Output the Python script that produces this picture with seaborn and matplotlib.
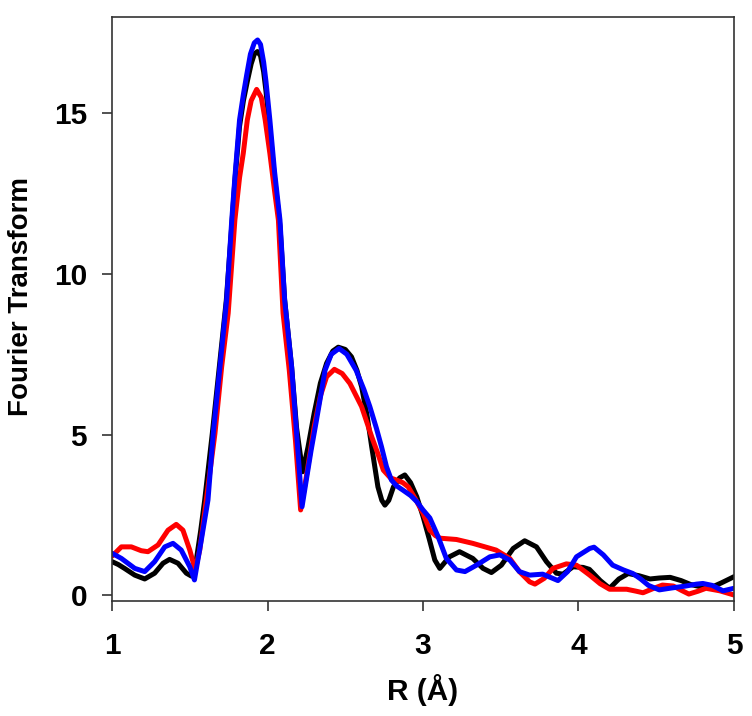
import numpy as np
import pandas as pd
import matplotlib
matplotlib.use("Agg")
import matplotlib.pyplot as plt
import seaborn as sns

# values
r_black = [1.00, 1.04, 1.08, 1.146, 1.21, 1.274, 1.328, 1.37, 1.424, 1.478, 1.51, 1.542, 1.57,
           1.596, 1.645, 1.69, 1.735, 1.77, 1.79, 1.82, 1.845, 1.87, 1.895, 1.915, 1.935,
           1.955, 1.975, 1.99, 2.015, 2.045, 2.08, 2.11, 2.155, 2.187, 2.226, 2.26, 2.30, 2.34,
           2.38, 2.42, 2.455, 2.50, 2.54, 2.575, 2.605, 2.64, 2.67, 2.71, 2.735, 2.755, 2.78,
           2.81, 2.85, 2.883, 2.92, 2.96, 3.00, 3.04, 3.076, 3.108, 3.17, 3.235, 3.32, 3.386,
           3.44, 3.504, 3.58, 3.654, 3.73, 3.794, 3.858, 3.90, 3.965, 4.03, 4.07, 4.14, 4.20,
           4.26, 4.32, 4.39, 4.46, 4.52, 4.59, 4.66, 4.72, 4.80, 4.86, 4.92, 5.00]
ft_black = [1.04, 0.95, 0.83, 0.62, 0.50, 0.68, 0.99, 1.11, 0.99, 0.68, 0.59, 1.09, 2.00,
            2.96, 5.04, 7.11, 9.19, 11.5, 12.9, 14.6, 15.4, 16.0, 16.55, 16.85, 16.93,
            16.8, 16.3, 15.7, 14.5, 13.0, 11.5, 9.20, 7.10, 5.20, 3.84, 4.60, 5.66, 6.60,
            7.22, 7.60, 7.72, 7.65, 7.42, 7.00, 6.49, 5.60, 4.62, 3.37, 2.95, 2.80, 2.95,
            3.37, 3.65, 3.74, 3.50, 3.06, 2.45, 1.75, 1.09, 0.83, 1.19, 1.35, 1.14, 0.83,
            0.70, 0.93, 1.45, 1.69, 1.50, 1.04, 0.68, 0.65, 0.88, 0.86, 0.80, 0.45, 0.21,
            0.50, 0.67, 0.60, 0.50, 0.53, 0.55, 0.45, 0.33, 0.24, 0.25, 0.38, 0.57]

r_red = [1.00, 1.06, 1.124, 1.188, 1.231, 1.296, 1.36, 1.413, 1.456, 1.50, 1.535, 1.564,
         1.606, 1.662, 1.705, 1.747, 1.79, 1.82, 1.844, 1.87, 1.895, 1.93, 1.96, 1.985, 2.015,
         2.045, 2.07, 2.10, 2.14, 2.18, 2.213, 2.25, 2.30, 2.34, 2.38, 2.43, 2.48, 2.53,
         2.605, 2.67, 2.71, 2.745, 2.79, 2.83, 2.87, 2.905, 2.95, 3.00, 3.044, 3.08, 3.11,
         3.215, 3.32, 3.47, 3.558, 3.62, 3.686, 3.72, 3.78, 3.836, 3.922, 3.987, 4.072, 4.14,
         4.20, 4.31, 4.37, 4.415, 4.48, 4.54, 4.61, 4.66, 4.71, 4.77, 4.82, 4.91, 5.00]
ft_red = [1.21, 1.50, 1.50, 1.38, 1.35, 1.56, 2.02, 2.20, 2.02, 1.40, 0.78, 1.40,
          2.96, 5.04, 7.11, 8.78, 11.68, 13.0, 13.76, 14.8, 15.4, 15.75, 15.5, 14.8, 13.76,
          12.6, 11.68, 8.78, 7.00, 4.80, 2.65, 3.70, 5.24, 6.20, 6.80, 7.03, 6.90, 6.59,
          5.87, 4.93, 4.40, 3.89, 3.65, 3.58, 3.50, 3.37, 3.00, 2.55, 2.02, 1.85, 1.77,
          1.73, 1.61, 1.40, 1.14, 0.73, 0.41, 0.34, 0.52, 0.83, 0.97, 0.93, 0.62, 0.35,
          0.18, 0.18, 0.12, 0.07, 0.20, 0.31, 0.28, 0.15, 0.03, 0.12, 0.21, 0.13, 0.00]

r_blue = [1.00, 1.06, 1.146, 1.21, 1.274, 1.339, 1.392, 1.445, 1.50, 1.53, 1.574, 1.617,
          1.651, 1.694, 1.737, 1.77, 1.79, 1.82, 1.845, 1.866, 1.89, 1.915, 1.936, 1.955,
          1.975, 1.99, 2.015, 2.045, 2.08, 2.11, 2.155, 2.187, 2.222, 2.25, 2.28, 2.315,
          2.37, 2.41, 2.46, 2.51, 2.57, 2.62, 2.658, 2.70, 2.733, 2.765, 2.797, 2.83, 2.87,
          2.92, 2.96, 3.00, 3.044, 3.097, 3.15, 3.215, 3.27, 3.344, 3.43, 3.494, 3.558, 3.62,
          3.686, 3.77, 3.868, 3.93, 3.987, 4.072, 4.10, 4.16, 4.22, 4.29, 4.35, 4.40, 4.45,
          4.52, 4.60, 4.69, 4.76, 4.80, 4.86, 4.93, 5.00]
ft_blue = [1.30, 1.14, 0.83, 0.73, 1.04, 1.50, 1.61, 1.40, 0.88, 0.47, 1.71, 2.96,
           5.04, 7.11, 9.19, 11.68, 13.0, 14.8, 15.6, 16.2, 16.85, 17.2, 17.29, 17.15,
           16.6, 16.0, 14.8, 13.2, 11.68, 9.19, 7.11, 5.04, 2.75, 3.60, 4.50, 5.45,
           7.00, 7.50, 7.68, 7.50, 7.00, 6.40, 5.87, 5.20, 4.62, 4.00, 3.58, 3.40, 3.27,
           3.10, 2.91, 2.65, 2.40, 1.82, 1.14, 0.78, 0.73, 0.93, 1.19, 1.25, 1.09, 0.73,
           0.62, 0.65, 0.45, 0.73, 1.19, 1.45, 1.49, 1.25, 0.93, 0.78, 0.67, 0.50, 0.30,
           0.16, 0.22, 0.28, 0.34, 0.36, 0.30, 0.13, 0.21]

x_ticks = [1, 2, 3, 4, 5]
y_ticks = [0, 5, 10, 15]

sns.set_style("ticks")
plt.rcParams["font.family"] = ["Liberation Sans", "DejaVu Sans"]
plt.rcParams["font.weight"] = "bold"

fig = plt.figure(figsize=(7.52, 7.16), dpi=100)
ax = fig.add_axes([0.149, 0.160, 0.827, 0.816])

# black, red, then blue on top
for r, ft, c in [(r_black, ft_black, "black"), (r_red, ft_red, "red"), (r_blue, ft_blue, "blue")]:
    sns.lineplot(x=r, y=ft, color=c, lw=3.6, ax=ax, sort=False,
                 solid_joinstyle="round", solid_capstyle="round")

ax.set_xlim(1, 5)
ax.set_ylim(-0.2, 18.0)
ax.set_xticks(x_ticks)
ax.set_yticks(y_ticks)
ax.tick_params(direction="out", length=7, width=1.2, colors="#333333", labelcolor="black",
               labelsize=21.5)
ax.tick_params(axis="x", pad=15)
ax.tick_params(axis="y", pad=11)
for lbl in ax.get_xticklabels() + ax.get_yticklabels():
    lbl.set_fontweight("bold")
for s in ax.spines.values():
    s.set_linewidth(1.2)
    s.set_color("#333333")

ax.set_xlabel("R (Å)", fontsize=21.5, fontweight="bold", color="black", labelpad=10)
ax.set_ylabel("Fourier Transform", fontsize=20, fontweight="bold", color="black")
ax.yaxis.set_label_coords(-0.125, 0.522)

fig.savefig("out.png", dpi=100)
